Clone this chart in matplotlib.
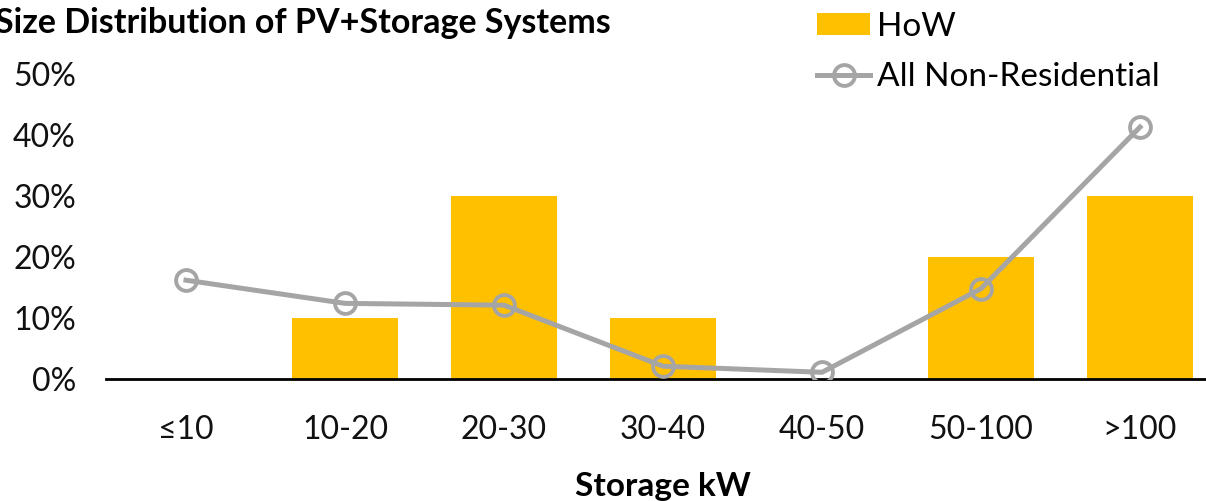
import matplotlib
matplotlib.use("Agg")
import matplotlib.pyplot as plt
from matplotlib.ticker import PercentFormatter

plt.rcParams['font.family'] = ['Lato', 'DejaVu Sans']

categories = ["≤10", "10-20", "20-30", "30-40", "40-50", "50-100", ">100"]
how_share = [0, 10, 30, 10, 0, 20, 30]
non_res_share = [16.2, 12.4, 12.1, 2.1, 1.1, 14.8, 41.3]

bar_color = "#FFC000"
line_color = "#A5A5A5"

fig = plt.figure(figsize=(12.06, 5.01), dpi=100)
ax = fig.add_axes([0.0883, 0.2435, 0.9229, 0.6088])

x = range(len(categories))
bars = ax.bar(x, how_share, width=0.667, color=bar_color, label="HoW", zorder=2)
line, = ax.plot(x, non_res_share, color=line_color, linewidth=3.6, marker="o",
                markersize=15, markerfacecolor="none", markeredgewidth=2.8,
                markeredgecolor=line_color, label="All Non-Residential", zorder=3)

ax.set_xlim(-0.5, len(categories) - 0.5)
ax.set_ylim(0, 50)
ax.set_yticks(range(0, 51, 10))
ax.yaxis.set_major_formatter(PercentFormatter(decimals=0))
ax.set_xticks(list(x))
ax.set_xticklabels(categories)

for side in ("top", "right", "left"):
    ax.spines[side].set_visible(False)
ax.spines["bottom"].set_linewidth(2)
ax.spines["bottom"].set_color("black")
ax.tick_params(axis="both", length=0, labelsize=23, colors="#111111")
ax.tick_params(axis="x", pad=26)
ax.tick_params(axis="y", pad=22)

ax.set_xlabel("Storage kW", fontsize=24, fontweight="bold", labelpad=19)

fig.text(-0.004, 0.955, "Size Distribution of PV+Storage Systems",
         fontsize=24.5, fontweight="bold", ha="left", va="center")

leg = fig.legend([bars, line], ["HoW", "All Non-Residential"],
                 loc="upper left", bbox_to_anchor=(0.672, 0.99), frameon=False,
                 fontsize=24, handlelength=1.6, handleheight=0.6,
                 handletextpad=0.2, labelspacing=0.62, borderaxespad=0,
                 borderpad=0.2)

fig.savefig("out.png", dpi=100)
